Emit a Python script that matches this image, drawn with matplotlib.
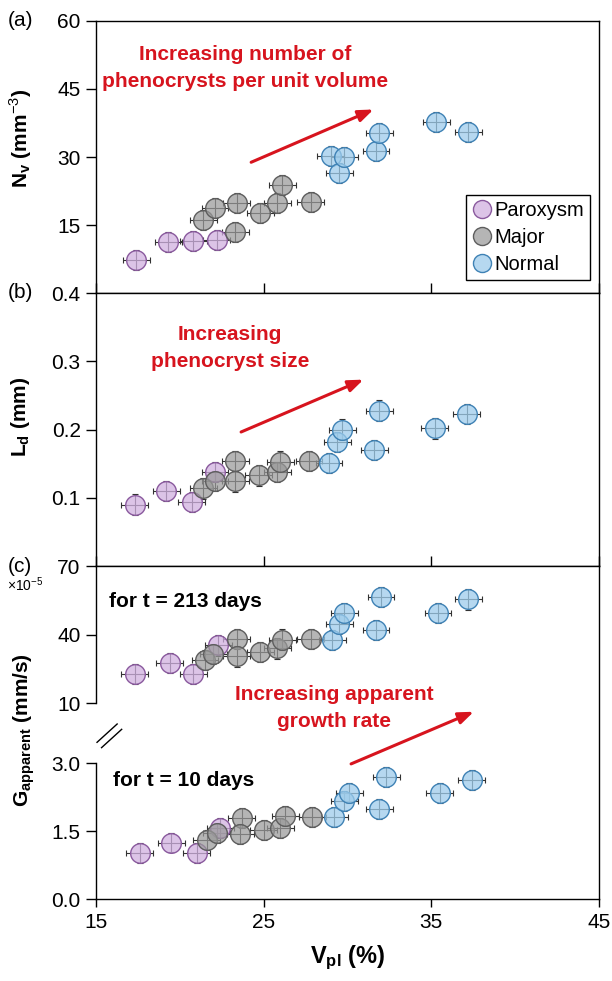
import numpy as np
import matplotlib
matplotlib.use("Agg")
import matplotlib.pyplot as plt
from matplotlib.lines import Line2D

plt.rcParams["font.family"] = ["Liberation Sans", "DejaVu Sans"]
plt.rcParams["mathtext.fontset"] = "custom"
plt.rcParams["mathtext.rm"] = "Liberation Sans"
plt.rcParams["mathtext.bf"] = "Liberation Sans:bold"

# ---- data ----
groups = ["Paroxysm", "Major", "Normal"]

# (a) number density N_v (mm^-3)
par_vpl_a = [17.4, 19.3, 20.8, 22.2]
par_nv = [7.3, 11.2, 11.6, 11.7]
maj_vpl_a = [21.4, 22.1, 23.3, 23.4, 24.8, 25.8, 26.1, 27.8]
maj_nv = [16.1, 18.7, 13.6, 19.8, 17.6, 19.8, 23.9, 20.2]
nor_vpl_a = [29.0, 29.5, 29.8, 31.7, 31.9, 35.3, 37.2]
nor_nv = [30.3, 26.4, 30.0, 31.3, 35.2, 37.8, 35.6]

# (b) dominant size L_d (mm)
par_vpl_b = [17.3, 19.2, 20.7, 22.1]
par_ld = [0.090, 0.110, 0.094, 0.138]
maj_vpl_b = [21.4, 22.1, 23.3, 23.3, 24.7, 25.8, 26.0, 27.7]
maj_ld = [0.114, 0.125, 0.154, 0.124, 0.133, 0.138, 0.153, 0.154]
nor_vpl_b = [28.9, 29.4, 29.7, 31.6, 31.9, 35.2, 37.1]
nor_ld = [0.151, 0.182, 0.200, 0.170, 0.228, 0.202, 0.223]

# (c) apparent growth rate, t = 213 days
par_vpl_c = [17.3, 19.4, 20.8, 22.3]
par_g213 = [22.7, 27.6, 22.7, 35.3]
maj_vpl_c = [21.5, 22.0, 23.4, 23.4, 24.8, 25.8, 26.1, 27.8]
maj_g213 = [28.8, 31.7, 38.3, 30.5, 32.6, 34.0, 37.9, 38.0]
nor_vpl_c = [29.1, 29.5, 29.8, 31.7, 32.0, 35.4, 37.2]
nor_g213 = [37.8, 44.8, 49.6, 41.9, 56.4, 49.6, 55.4]

# (c) apparent growth rate, t = 10 days
par_vpl_c10 = [17.6, 19.5, 21.0, 22.4]
par_g10 = [1.02, 1.25, 1.02, 1.58]
maj_vpl_c10 = [21.6, 22.2, 23.7, 23.6, 25.0, 26.0, 26.3, 27.9]
maj_g10 = [1.30, 1.45, 1.79, 1.43, 1.52, 1.56, 1.84, 1.82]
nor_vpl_c10 = [29.2, 29.8, 30.1, 31.9, 32.3, 35.5, 37.4]
nor_g10 = [1.82, 2.17, 2.35, 1.98, 2.69, 2.34, 2.62]

# error bar half widths
vpl_err = 0.8
nv_err = 2.2
ld_err = 0.015
g213_err = 4.4
g10_err = 0.22

face = {"Paroxysm": (0.82, 0.69, 0.88, 0.75),
        "Major": (0.60, 0.60, 0.60, 0.72),
        "Normal": (0.62, 0.80, 0.92, 0.75)}
edge = {"Paroxysm": "#8a5a9e", "Major": "#5e5e5e", "Normal": "#3f82b5"}
red = "#d7141e"


def draw_group(ax, x, y, xerr, yerr, g):
    ax.errorbar(x, y, xerr=xerr, yerr=yerr, fmt="none", ecolor="#333333",
                elinewidth=0.8, capsize=2.5, capthick=0.8, zorder=2)
    ax.scatter(x, y, s=200, facecolor=face[g], edgecolor=edge[g],
               linewidth=1.0, zorder=3)


def style(ax, bottom_labels=False):
    ax.set_xlim(15, 45)
    ax.set_xticks([15, 25, 35, 45])
    for sp in ax.spines.values():
        sp.set_linewidth(1.0)
    ax.tick_params(axis="y", direction="out", length=7, width=1.0,
                   labelsize=15, pad=4)
    if bottom_labels:
        ax.tick_params(axis="x", direction="out", length=6, width=1.0,
                       labelsize=15, pad=4)
    else:
        ax.tick_params(axis="x", direction="in", length=7, width=1.0,
                       labelbottom=False)


arrow = dict(arrowstyle="-|>,head_length=0.9,head_width=0.35", color=red, lw=2.2)

fig = plt.figure(figsize=(6.12, 9.81), dpi=100)
L, W = 0.1569, 0.8219

# ---- (a) ----
ax1 = fig.add_axes([L, 0.7010, W, 0.2779])
draw_group(ax1, par_vpl_a, par_nv, vpl_err, nv_err, "Paroxysm")
draw_group(ax1, maj_vpl_a, maj_nv, vpl_err, nv_err, "Major")
draw_group(ax1, nor_vpl_a, nor_nv, vpl_err, nv_err, "Normal")
style(ax1)
ax1.set_ylim(0, 60)
ax1.set_yticks([15, 30, 45, 60])
ax1.text(0.296, 0.826, "Increasing number of\nphenocrysts per unit volume",
         transform=ax1.transAxes, ha="center", va="center", color=red,
         fontsize=15, fontweight="bold", linespacing=1.5)
ax1.annotate("", xy=(31.7, 40.7), xytext=(24.1, 28.6), arrowprops=arrow)
handles = [Line2D([], [], ls="none", marker="o", markersize=13,
                  markerfacecolor=face[g], markeredgecolor=edge[g]) for g in groups]
leg = ax1.legend(handles, groups, loc="lower right", bbox_to_anchor=(0.982, 0.049),
                 borderaxespad=0, fancybox=False, edgecolor="black", framealpha=1,
                 handletextpad=0.1, handlelength=1.0, labelspacing=0.4,
                 borderpad=0.3, prop={"size": 14.5})
leg.get_frame().set_linewidth(1.0)

# ---- (b) ----
ax2 = fig.add_axes([L, 0.4230, W, 0.2780])
draw_group(ax2, par_vpl_b, par_ld, vpl_err, ld_err, "Paroxysm")
draw_group(ax2, maj_vpl_b, maj_ld, vpl_err, ld_err, "Major")
draw_group(ax2, nor_vpl_b, nor_ld, vpl_err, ld_err, "Normal")
style(ax2)
ax2.set_ylim(0, 0.4)
ax2.set_yticks([0.1, 0.2, 0.3, 0.4])
ax2.text(0.266, 0.80, "Increasing\nphenocryst size", transform=ax2.transAxes,
         ha="center", va="center", color=red, fontsize=15, fontweight="bold",
         linespacing=1.5)
ax2.annotate("", xy=(31.1, 0.275), xytext=(23.5, 0.195), arrowprops=arrow)


# ---- (c) broken axis: 0-3 linear, gap, 10-70 compressed ----
def fwd(y):
    y = np.asarray(y, dtype=float)
    return np.where(y <= 3, y,
                    np.where(y <= 10, 3 + (y - 3) * 1.312 / 7,
                             4.312 + (y - 10) * 3.024 / 60))


def inv(u):
    u = np.asarray(u, dtype=float)
    return np.where(u <= 3, u,
                    np.where(u <= 4.312, 3 + (u - 3) * 7 / 1.312,
                             10 + (u - 4.312) * 60 / 3.024))


ax3 = fig.add_axes([L, 0.0833, W, 0.3397])
ax3.set_yscale("function", functions=(fwd, inv))
draw_group(ax3, par_vpl_c, par_g213, vpl_err, g213_err, "Paroxysm")
draw_group(ax3, maj_vpl_c, maj_g213, vpl_err, g213_err, "Major")
draw_group(ax3, nor_vpl_c, nor_g213, vpl_err, g213_err, "Normal")
draw_group(ax3, par_vpl_c10, par_g10, vpl_err, g10_err, "Paroxysm")
draw_group(ax3, maj_vpl_c10, maj_g10, vpl_err, g10_err, "Major")
draw_group(ax3, nor_vpl_c10, nor_g10, vpl_err, g10_err, "Normal")
style(ax3, bottom_labels=True)
ax3.set_ylim(0, 70)
ax3.set_yticks([0, 1.5, 3.0, 10, 40, 70])
ax3.set_yticklabels(["0.0", "1.5", "3.0", "10", "40", "70"])
ax3.yaxis.set_minor_locator(matplotlib.ticker.NullLocator())
ax3.spines["left"].set_bounds(10, 70)
ax3.plot([0, 0], [0, 3], color="black", lw=1.0, clip_on=False,
         transform=ax3.get_yaxis_transform())
# break marks
for dx, dy in [(0.0, 0.0), (0.009, -0.016)]:
    ax3.plot([0.002 + dx, 0.042 + dx], [0.471 + dy, 0.526 + dy], color="black",
             lw=1.0, transform=ax3.transAxes, clip_on=False)
ax3.text(0.025, 0.893, "for t = 213 days", transform=ax3.transAxes,
         ha="left", va="center", fontsize=15, fontweight="bold")
ax3.text(0.034, 0.356, "for t = 10 days", transform=ax3.transAxes,
         ha="left", va="center", fontsize=15, fontweight="bold")
ax3.text(0.473, 0.574, "Increasing apparent\ngrowth rate", transform=ax3.transAxes,
         ha="center", va="center", color=red, fontsize=15, fontweight="bold",
         linespacing=1.5)
ax3.annotate("", xy=(0.756, 0.566), xytext=(0.502, 0.403),
             xycoords="axes fraction", textcoords="axes fraction",
             arrowprops=arrow)
ax3.set_xlabel(r"$\mathbf{V_{pl}}$ (%)", fontsize=17, fontweight="bold", labelpad=8)

# ---- axis labels and panel letters ----
fig.text(0.034, 0.859, r"$\mathbf{N_v}$ (mm$^{-3}$)", rotation=90, ha="center",
         va="center", fontsize=15, fontweight="bold")
fig.text(0.033, 0.575, r"$\mathbf{L_d}$ (mm)", rotation=90, ha="center",
         va="center", fontsize=15, fontweight="bold")
fig.text(0.040, 0.256, r"$\mathbf{G_{apparent}}$ (mm/s)", rotation=90,
         ha="center", va="center", fontsize=15, fontweight="bold")
fig.text(0.012, 1 - 20 / 981, "(a)", ha="left", va="center", fontsize=15)
fig.text(0.012, 1 - 293 / 981, "(b)", ha="left", va="center", fontsize=15)
fig.text(0.012, 1 - 566 / 981, "(c)", ha="left", va="center", fontsize=15)
fig.text(0.012, 1 - 585 / 981, r"$\times$10$^{-5}$", ha="left", va="center", fontsize=10)

fig.savefig("out.png", dpi=100)
